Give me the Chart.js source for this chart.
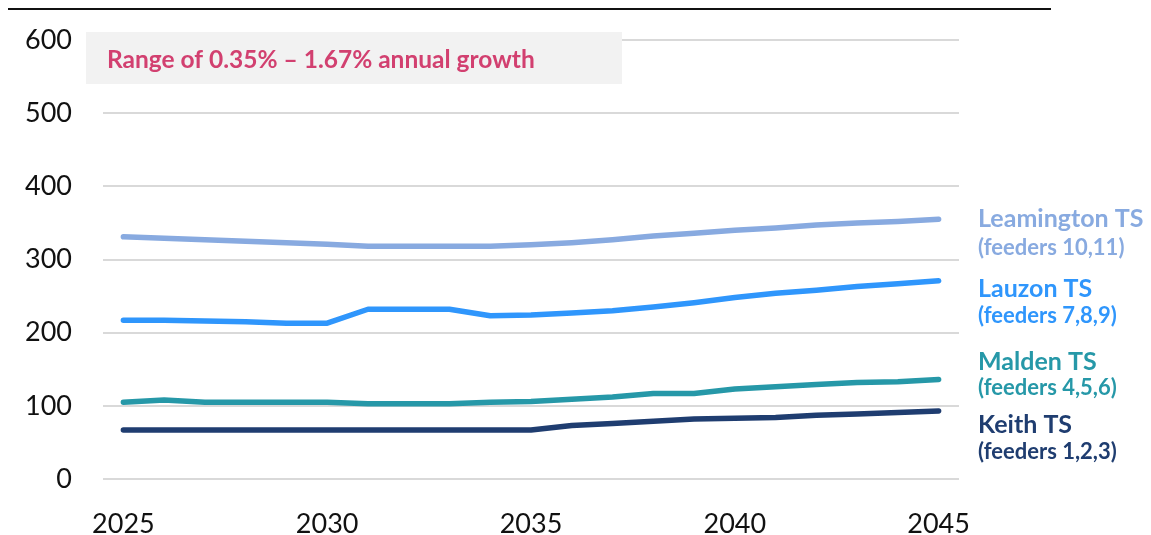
<!DOCTYPE html>
<html>
<head>
<meta charset="utf-8">
<script src="https://cdn.jsdelivr.net/npm/chart.js@4"></script>
<style>
  html, body { margin: 0; padding: 0; background: #fff; }
  #wrap { width: 1151px; height: 535px; position: relative; }
</style>
</head>
<body>
<div id="wrap"><canvas id="chart" width="1151" height="535"></canvas></div>
<script>
// Years on the x axis
const years = ['2025', '2026', '2027', '2028', '2029', '2030', '2031', '2032', '2033', '2034', '2035',
               '2036', '2037', '2038', '2039', '2040', '2041', '2042', '2043', '2044', '2045'];

// Station load forecasts
const leamington = [331, 329, 327, 325, 323, 321, 318, 318, 318, 318, 320, 323, 327, 332, 336, 340, 343, 347, 350, 352, 355];
const lauzon     = [217, 217, 216, 215, 213, 213, 232, 232, 232, 223, 224, 227, 230, 235, 241, 248, 254, 258, 263, 267, 271];
const malden     = [105, 108, 105, 105, 105, 105, 103, 103, 103, 105, 106, 109, 112, 117, 117, 123, 126, 129, 132, 133, 136];
const keith      = [67, 67, 67, 67, 67, 67, 67, 67, 67, 67, 67, 73, 76, 79, 82, 83, 84, 87, 89, 91, 93];

const yTicks = [0, 100, 200, 300, 400, 500, 600];
const xTickLabels = ['2025', '2030', '2035', '2040', '2045'];

const stationNames = ['Leamington TS', 'Lauzon TS', 'Malden TS', 'Keith TS'];
const feederNames = ['(feeders 10,11)', '(feeders 7,8,9)', '(feeders 4,5,6)', '(feeders 1,2,3)'];
const noteText = 'Range of 0.35% \u2013 1.67% annual growth';

const colors = ['#88aae0', '#2f96fc', '#2698a8', '#1f3d70'];
const FONT = 'Lato, "Open Sans", sans-serif';

function line(label, data, color) {
    return {
        label, data,
        borderColor: color,
        borderWidth: 5.5,
        borderCapStyle: 'round',
        borderJoinStyle: 'round',
        pointRadius: 0,
        tension: 0,
        fill: false
    };
}

// Decorations: the rule across the top, the note box and the station labels
const decorations = {
    id: 'decorations',
    beforeDatasetsDraw(chart) {
        const ctx = chart.ctx;
        ctx.save();
        ctx.fillStyle = '#f2f2f2';
        ctx.fillRect(86, 32, 536, 52);
        ctx.fillStyle = '#d24070';
        ctx.font = 'bold 24.5px ' + FONT;
        ctx.textBaseline = 'alphabetic';
        ctx.fillText(noteText, 107, 67.5);
        ctx.restore();
    },
    afterDraw(chart) {
        const ctx = chart.ctx;
        ctx.save();
        ctx.fillStyle = '#111';
        ctx.fillRect(8, 8, 1043, 2);

        const nameBase = [227, 297, 370, 433];
        const feederBase = [255, 323, 395, 459];
        ctx.textAlign = 'left';
        ctx.textBaseline = 'alphabetic';
        for (let i = 0; i < stationNames.length; i++) {
            ctx.fillStyle = colors[i];
            ctx.font = 'bold 25px ' + FONT;
            ctx.fillText(stationNames[i], 978, nameBase[i]);
            ctx.font = 'bold 22px ' + FONT;
            ctx.fillText(feederNames[i], 978, feederBase[i]);
        }
        ctx.restore();
    }
};

new Chart(document.getElementById('chart'), {
    type: 'line',
    data: {
        labels: years,
        datasets: [
            line(stationNames[0], leamington, colors[0]),
            line(stationNames[1], lauzon, colors[1]),
            line(stationNames[2], malden, colors[2]),
            line(stationNames[3], keith, colors[3])
        ]
    },
    options: {
        responsive: false,
        animation: false,
        layout: { padding: { top: 40, right: 192, left: 0, bottom: 0 } },
        plugins: {
            legend: { display: false },
            tooltip: { enabled: false }
        },
        scales: {
            x: {
                offset: true,
                grid: { display: false },
                border: { display: false },
                ticks: {
                    autoSkip: false,
                    maxRotation: 0,
                    padding: 21,
                    color: '#111',
                    font: { family: FONT, size: 27 },
                    callback(value) {
                        const lbl = this.getLabelForValue(value);
                        return xTickLabels.includes(lbl) ? lbl : null;
                    }
                },
                afterFit(scale) { scale.height = 56; }
            },
            y: {
                min: yTicks[0],
                max: yTicks[yTicks.length - 1],
                afterBuildTicks(scale) { scale.ticks = yTicks.map(v => ({ value: v })); },
                grid: { color: '#d9d9d9', lineWidth: 2, drawTicks: false },
                border: { display: false },
                ticks: {
                    padding: 31,
                    color: '#111',
                    font: { family: FONT, size: 27 }
                },
                afterFit(scale) {
                    scale.width = 103;
                    scale.paddingTop = 0;
                    scale.paddingBottom = 0;
                }
            }
        }
    },
    plugins: [decorations]
});
</script>
</body>
</html>
